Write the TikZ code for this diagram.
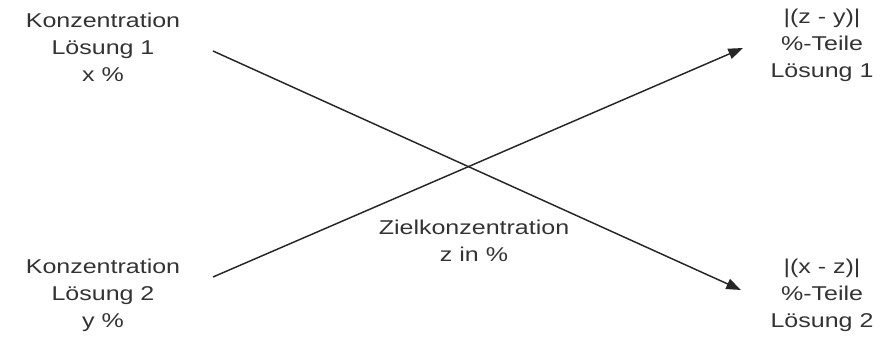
\documentclass[tikz,border=0pt]{standalone}
\usepackage{fontspec}
\setmainfont[FakeStretch=1.25]{Liberation Sans}
\usepackage{tikz}
\usetikzlibrary{arrows.meta}
\tikzset{
  label/.style={align=center, text=black!80, inner sep=0pt, font=\fontsize{15}{20.25}\selectfont},
  mix/.style={-{Triangle[length=11pt,width=8pt]}, line width=1.1pt, black!85},
}

\begin{document}
\begin{tikzpicture}[x=0.75pt, y=-0.75pt]
  \useasboundingbox (0,0) rectangle (892,338);
  \node[label] (loes1) at (103,47) {Konzentration\\Lösung 1\\x \%};
  \node[label] (loes2) at (103,295) {Konzentration\\Lösung 2\\y \%};
  \node[label] (teil1) at (822,45) {|(z - y)|\\\%-Teile\\Lösung 1};
  \node[label] (teil2) at (822,295) {|(x - z)|\\\%-Teile\\Lösung 2};
  \node[label] (ziel) at (474,241) {Zielkonzentration\\z in \%};
  % free ends of the two crossing arrows
  \coordinate (a1) at (213,51);
  \coordinate (b1) at (741,290);
  \coordinate (a2) at (213,277);
  \coordinate (b2) at (743,48);
  \draw[mix] (a1) -- (b1);
  \draw[mix] (a2) -- (b2);
\end{tikzpicture}
\end{document}
